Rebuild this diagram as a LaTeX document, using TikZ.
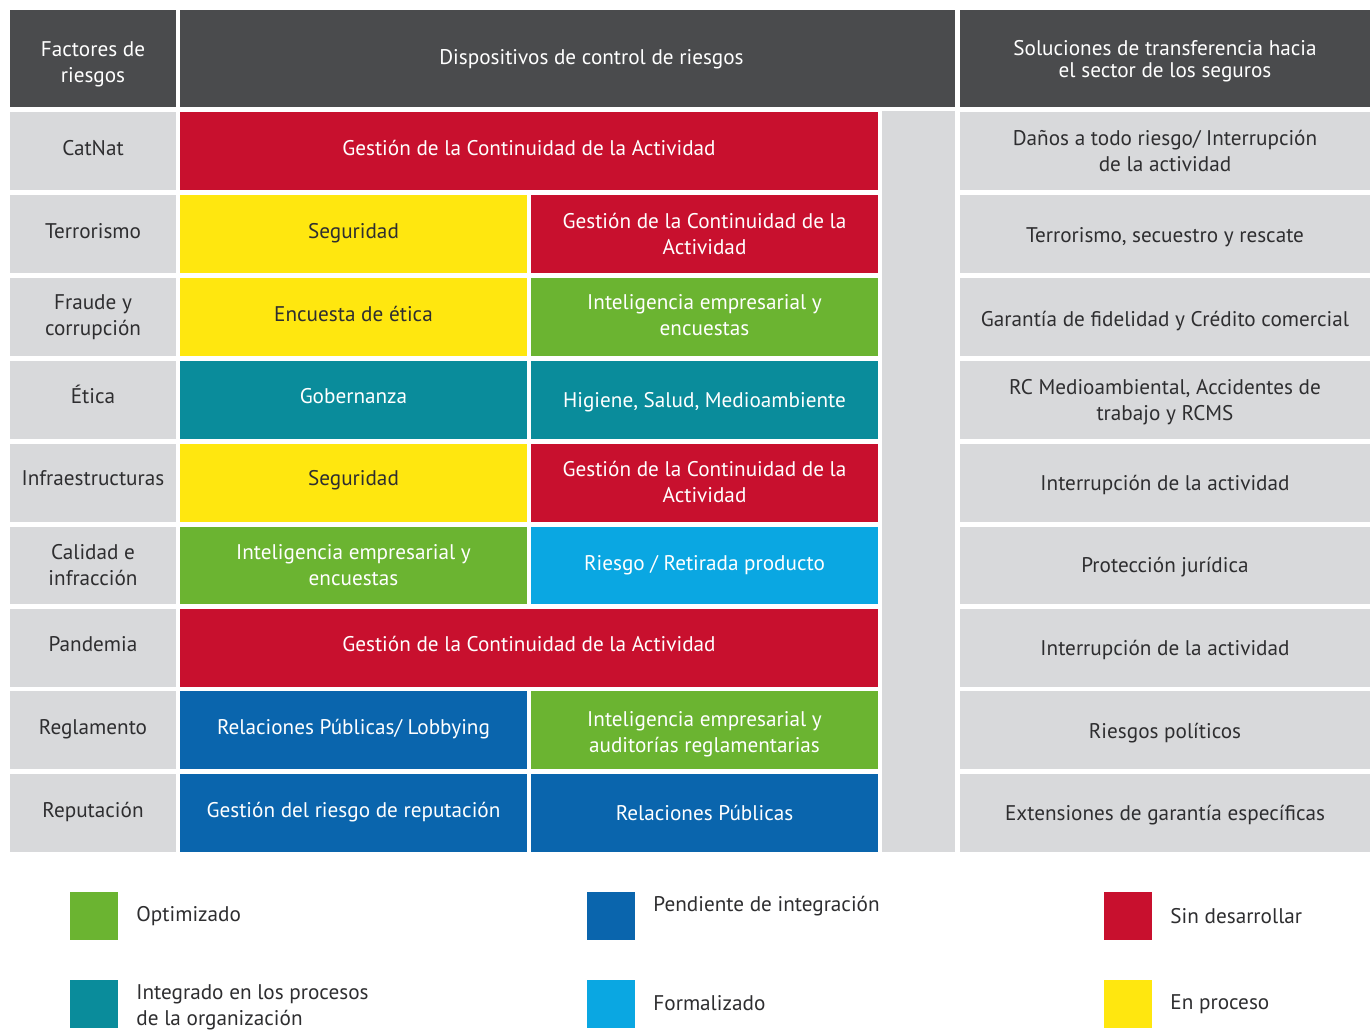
\documentclass[tikz,border=0pt]{standalone}
\usepackage{fontspec}
\setmainfont{PT Sans}
\usetikzlibrary{fit,positioning,calc}
\definecolor{oscuro}{HTML}{4A4B4D}
\definecolor{grisclaro}{HTML}{D8D9DB}
\definecolor{textoosc}{HTML}{2E2E30}
\definecolor{cRojo}{HTML}{C8102E}
\definecolor{cAmarillo}{HTML}{FFE70F}
\definecolor{cVerde}{HTML}{6BB431}
\definecolor{cTurquesa}{HTML}{0A8C9B}
\definecolor{cAzul}{HTML}{0A65AD}
\definecolor{cCeleste}{HTML}{0AA7E2}
\def\FSize{\fontsize{10.6}{13}\selectfont}
\tikzset{
  box/.style={inner sep=0pt, align=center, font=\FSize},
  cab/.style={box, fill=oscuro, text=white},
  gris/.style={box, fill=grisclaro, text=textoosc},
  rojo/.style={box, fill=cRojo, text=white},
  amarillo/.style={box, fill=cAmarillo, text=textoosc},
  verde/.style={box, fill=cVerde, text=white},
  turquesa/.style={box, fill=cTurquesa, text=white},
  azul/.style={box, fill=cAzul, text=white},
  celeste/.style={box, fill=cCeleste, text=white},
  muestra/.style={inner sep=0pt, minimum width=24pt, minimum height=24pt},
  leyenda/.style={font=\FSize, text=textoosc, align=left, anchor=west},
}
% celda: [ajuste vertical del texto]{nombre}{estilo}{esquina}{esquina}{texto}
\newcommand{\celda}[6][0pt]{%
  \node[#3, fit={(#4) (#5)}] (#2) {};
  \node[#3, fill=none, yshift=#1] (#2t) at (#2.center) {#6};}
\begin{document}
\begin{tikzpicture}[x=0.5pt,y=-0.5pt]
  \useasboundingbox[fill=white] (0,0) rectangle (1371,1036);
  % cabecera
  \celda[-2.75pt]{hdA}{cab}{10,10}{176,107}{Factores de\\riesgos}
  \node[cab, fit={(180,10) (955,107)}] (hdB) {};
  \node[box, text=white] (hdBt) at ($(hdB.center)+(24,1)$) {Dispositivos de control de riesgos};
  \celda[-1.5pt]{hdC}{cab, font=\fontsize{10.6}{11.2}\selectfont}{960,10}{1370,107}{Soluciones de transferencia hacia\\el sector de los seguros}
  % franja gris
  \node[gris, fit={(882,111) (955,852)}] (franja) {};
  % filas
  \celda[1.5pt]{fA1}{gris}{10,112}{176,190}{CatNat}
  \celda[1.5pt]{fB1}{rojo}{180,112}{878,190}{Gestión de la Continuidad de la Actividad}
  \celda{fC1}{gris}{960,112}{1370,190}{Daños a todo riesgo/ Interrupción\\de la actividad}
  %
  \celda[1.5pt]{fA2}{gris}{10,195}{176,273}{Terrorismo}
  \celda[0.5pt]{fB2}{amarillo}{180,195}{527,273}{Seguridad}
  \celda{fD2}{rojo}{531,195}{878,273}{Gestión de la Continuidad de la\\Actividad}
  \celda[-1.5pt]{fC2}{gris}{960,195}{1370,273}{Terrorismo, secuestro y rescate}
  %
  \celda{fA3}{gris}{10,278}{176,356}{Fraude y\\corrupción}
  \celda[1.5pt]{fB3}{amarillo}{180,278}{527,356}{Encuesta de ética}
  \celda[1pt]{fD3}{verde}{531,278}{878,356}{Inteligencia empresarial y\\encuestas}
  \celda[-2pt]{fC3}{gris}{960,278}{1370,356}{Garantía de fidelidad y Crédito comercial}
  %
  \celda[3pt]{fA4}{gris}{10,361}{176,439}{Ética}
  \celda[2pt]{fB4}{turquesa}{180,361}{527,439}{Gobernanza}
  \celda[-1pt]{fD4}{turquesa}{531,361}{878,439}{Higiene, Salud, Medioambiente}
  \celda[-1pt]{fC4}{gris}{960,361}{1370,439}{RC Medioambiental, Accidentes de\\trabajo y RCMS}
  %
  \celda[2.5pt]{fA5}{gris}{10,444}{176,522}{Infraestructuras}
  \celda[1.5pt]{fB5}{amarillo}{180,444}{527,522}{Seguridad}
  \celda[0.5pt]{fD5}{rojo}{531,444}{878,522}{Gestión de la Continuidad de la\\Actividad}
  \celda[-1pt]{fC5}{gris}{960,444}{1370,522}{Interrupción de la actividad}
  %
  \celda{fA6}{gris}{10,527}{176,604}{Calidad e\\infracción}
  \celda{fB6}{verde}{180,527}{527,604}{Inteligencia empresarial y\\encuestas}
  \celda{fD6}{celeste}{531,527}{878,604}{Riesgo / Retirada producto}
  \celda[-1pt]{fC6}{gris}{960,527}{1370,604}{Protección jurídica}
  %
  \celda[2pt]{fA7}{gris}{10,609}{176,687}{Pandemia}
  \celda[2pt]{fB7}{rojo}{180,609}{878,687}{Gestión de la Continuidad de la Actividad}
  \celda[-1pt]{fC7}{gris}{960,609}{1370,687}{Interrupción de la actividad}
  %
  \celda[0.5pt]{fA8}{gris}{10,691}{176,769}{Reglamento}
  \celda[0.5pt]{fB8}{azul}{180,691}{527,769}{Relaciones Públicas/ Lobbying}
  \celda[-2pt]{fD8}{verde}{531,691}{878,769}{Inteligencia empresarial y\\auditorías reglamentarias}
  \celda[-1.5pt]{fC8}{gris}{960,691}{1370,769}{Riesgos políticos}
  %
  \celda[0.5pt]{fA9}{gris}{10,774}{176,852}{Reputación}
  \celda[0.5pt]{fB9}{azul}{180,774}{527,852}{Gestión del riesgo de reputación}
  \celda{fD9}{azul}{531,774}{878,852}{Relaciones Públicas}
  \celda[-1pt]{fC9}{gris}{960,774}{1370,852}{Extensiones de garantía específicas}
  % leyenda
  \node[muestra, fill=cVerde] (mOpt) at (94,916) {};
  \node[muestra, fill=cTurquesa] (mInt) at (94,1004) {};
  \node[muestra, fill=cAzul] (mPen) at (611,916) {};
  \node[muestra, fill=cCeleste] (mFor) at (611,1004) {};
  \node[muestra, fill=cRojo] (mSin) at (1128,916) {};
  \node[muestra, fill=cAmarillo] (mPro) at (1128,1004) {};
  \node[leyenda, right=5.5pt of mOpt] (lOpt) {Optimizado};
  \node[leyenda, right=5.5pt of mInt, yshift=-1.5pt] (lInt) {Integrado en los procesos\\de la organización};
  \node[leyenda, right=5.5pt of mPen, yshift=5pt] (lPen) {Pendiente de integración};
  \node[leyenda, right=5.5pt of mFor, yshift=0.5pt] (lFor) {Formalizado};
  \node[leyenda, right=5.5pt of mSin] (lSin) {Sin desarrollar};
  \node[leyenda, right=5.5pt of mPro] (lPro) {En proceso};
\end{tikzpicture}
\end{document}
